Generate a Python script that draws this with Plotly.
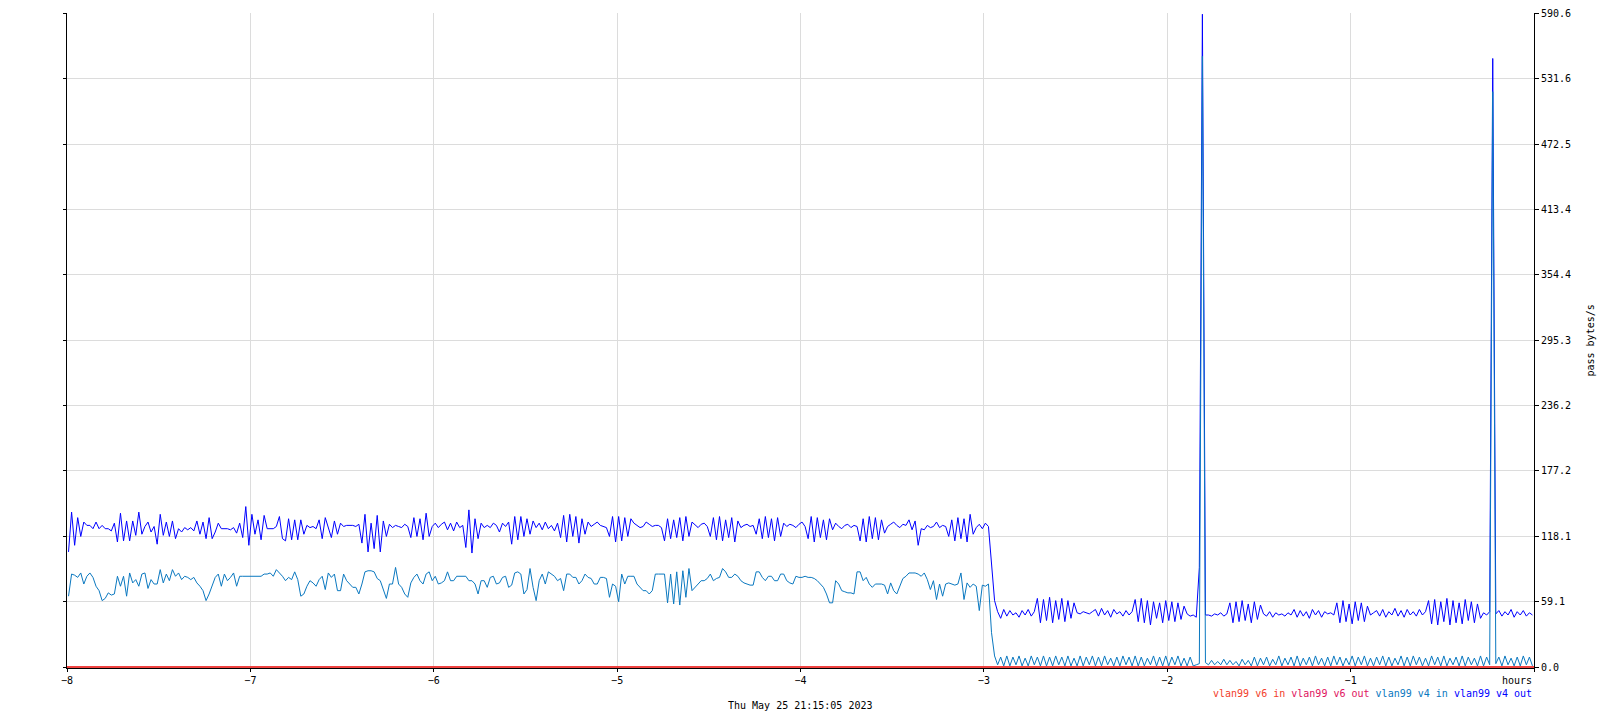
import plotly.graph_objects as go

# ---------------- data (1-minute samples, last 8 hours) ----------------
hours_back = 8
samples_per_hour = 60

v4_out = [
    104, 140, 110, 135, 118, 131, 128, 128, 125, 131, 125, 128, 125, 125, 123, 130, 113, 139, 114, 132,
    114, 132, 119, 140, 120, 127, 131, 122, 127, 111, 138, 119, 131, 118, 132, 116, 125, 122, 126, 124,
    126, 123, 132, 120, 131, 116, 135, 116, 122, 130, 125, 125, 125, 124, 126, 121, 130, 117, 145, 110,
    138, 120, 133, 115, 137, 125, 125, 125, 127, 136, 116, 114, 134, 115, 133, 115, 133, 120, 128, 126,
    127, 125, 133, 116, 135, 126, 117, 132, 120, 130, 127, 128, 128, 128, 127, 129, 112, 138, 104, 130,
    107, 137, 104, 132, 118, 129, 126, 128, 127, 126, 129, 127, 117, 135, 118, 134, 115, 139, 118, 127,
    130, 126, 129, 131, 124, 130, 123, 131, 126, 128, 108, 142, 103, 134, 116, 130, 126, 128, 126, 130,
    128, 122, 130, 127, 131, 111, 136, 115, 136, 118, 134, 120, 132, 126, 130, 124, 131, 125, 128, 123,
    130, 117, 137, 113, 138, 118, 136, 112, 134, 120, 131, 127, 129, 131, 128, 127, 126, 118, 136, 113,
    136, 114, 135, 118, 134, 130, 128, 126, 127, 131, 129, 127, 128, 128, 126, 114, 134, 116, 133, 117,
    135, 114, 136, 118, 131, 128, 126, 129, 130, 127, 118, 135, 115, 136, 114, 133, 117, 135, 113, 132,
    126, 128, 129, 127, 128, 120, 134, 116, 136, 117, 134, 114, 135, 118, 130, 127, 129, 128, 126, 129,
    131, 127, 116, 136, 113, 135, 117, 133, 115, 134, 124, 130, 127, 125, 128, 129, 126, 128, 127, 114,
    134, 113, 136, 116, 135, 115, 133, 121, 127, 129, 131, 128, 126, 129, 128, 133, 124, 132, 110, 125,
    124, 128, 126, 127, 131, 126, 128, 127, 118, 133, 114, 135, 116, 134, 113, 138, 120, 126, 129, 125,
    130, 127, 91, 60, 50, 44, 52, 46, 51, 47, 49, 45, 51, 47, 52, 46, 50, 62, 40, 61,
    42, 63, 40, 60, 43, 62, 41, 60, 44, 58, 49, 48, 50, 49, 48, 50, 52, 46, 53, 47,
    51, 45, 52, 48, 50, 46, 51, 47, 50, 61, 41, 62, 40, 60, 38, 59, 44, 58, 40, 60,
    42, 59, 41, 58, 43, 55, 48, 46, 47, 45, 90, 590, 47, 47, 46, 48, 47, 49, 46, 48,
    58, 40, 59, 41, 60, 42, 57, 40, 59, 43, 56, 48, 46, 50, 45, 49, 47, 48, 46, 49,
    47, 52, 45, 51, 46, 50, 44, 52, 47, 51, 45, 50, 48, 49, 47, 58, 40, 60, 41, 57,
    39, 59, 42, 58, 41, 55, 47, 49, 51, 46, 52, 45, 50, 47, 53, 46, 51, 45, 52, 47,
    50, 46, 52, 47, 50, 60, 39, 61, 38, 59, 41, 62, 38, 60, 40, 58, 39, 61, 42, 59,
    40, 57, 44, 49, 47, 50, 550, 48, 51, 46, 50, 47, 52, 45, 50, 47, 51, 46, 49, 47,
]

v4_in = [
    64, 84, 83, 81, 85, 75, 82, 85, 81, 73, 69, 60, 62, 67, 65, 66, 82, 73, 82, 64,
    85, 76, 79, 73, 84, 85, 71, 79, 75, 75, 88, 76, 84, 78, 88, 82, 85, 79, 82, 81,
    79, 81, 76, 73, 69, 60, 66, 73, 81, 84, 73, 84, 78, 81, 85, 73, 82, 82, 82, 82,
    82, 82, 82, 82, 84, 84, 85, 82, 88, 85, 82, 78, 81, 79, 86, 79, 64, 66, 73, 78,
    76, 73, 79, 82, 70, 85, 81, 84, 69, 69, 84, 78, 75, 72, 72, 66, 75, 86, 87, 87,
    86, 80, 78, 70, 62, 75, 75, 90, 75, 72, 66, 63, 76, 81, 84, 78, 75, 84, 86, 78,
    82, 75, 76, 78, 86, 78, 78, 82, 82, 82, 82, 78, 78, 75, 66, 78, 78, 72, 81, 82,
    75, 76, 81, 82, 72, 74, 85, 86, 84, 66, 70, 89, 72, 60, 78, 84, 75, 86, 84, 82,
    78, 80, 69, 84, 84, 81, 81, 75, 78, 84, 81, 80, 75, 75, 81, 81, 80, 63, 75, 73,
    59, 84, 75, 82, 82, 82, 75, 72, 69, 69, 66, 69, 84, 84, 84, 84, 58, 84, 57, 86,
    56, 87, 63, 89, 69, 72, 75, 78, 78, 80, 84, 78, 80, 81, 89, 86, 81, 81, 84, 82,
    78, 76, 75, 74, 74, 86, 86, 81, 78, 82, 82, 78, 78, 84, 84, 78, 76, 75, 82, 81,
    81, 82, 81, 81, 80, 78, 75, 72, 66, 58, 58, 78, 75, 69, 68, 67, 67, 66, 86, 86,
    78, 81, 75, 72, 75, 75, 75, 74, 66, 76, 69, 66, 73, 80, 82, 85, 85, 85, 84, 82,
    85, 79, 70, 78, 61, 75, 64, 75, 76, 75, 74, 75, 85, 61, 76, 72, 75, 73, 51, 74,
    73, 75, 31, 10, 2, 9, 1, 10, 1, 9, 2, 10, 1, 8, 1, 10, 2, 9, 1, 10,
    1, 9, 1, 10, 2, 9, 1, 10, 1, 8, 1, 10, 1, 9, 2, 10, 1, 9, 1, 10,
    2, 8, 1, 9, 1, 10, 2, 9, 1, 10, 1, 9, 1, 8, 2, 10, 1, 9, 1, 10,
    1, 9, 2, 10, 1, 8, 1, 9, 1, 2, 3, 552, 4, 2, 6, 2, 5, 2, 7, 2,
    6, 2, 5, 1, 7, 2, 6, 1, 9, 1, 8, 2, 9, 1, 7, 2, 10, 1, 8, 2,
    9, 1, 10, 1, 8, 2, 9, 1, 10, 2, 8, 1, 9, 1, 10, 2, 9, 1, 8, 2,
    10, 1, 9, 2, 10, 1, 8, 1, 9, 2, 10, 1, 9, 1, 8, 2, 10, 1, 9, 1,
    10, 2, 9, 1, 8, 1, 10, 2, 9, 1, 10, 1, 8, 2, 9, 1, 10, 1, 9, 2,
    8, 1, 10, 1, 9, 2, 520, 3, 9, 1, 10, 2, 8, 1, 9, 1, 10, 2, 9, 1,
]

# IPv6 counters stayed at zero for the whole window
v6_time = [-8, 0]
v6_in = [0, 0]
v6_out = [0, 0]

y_tick_values = [0, 59.06, 118.12, 177.18, 236.24, 295.3, 354.36, 413.42, 472.48, 531.54, 590.6]
y_tick_labels = ["0.0", "59.1", "118.1", "177.2", "236.2", "295.3", "354.4", "413.4", "472.5", "531.6", "590.6"]
x_tick_values = [-8, -7, -6, -5, -4, -3, -2, -1, 0]
x_tick_labels = ["\u22128", "\u22127", "\u22126", "\u22125", "\u22124", "\u22123", "\u22122", "\u22121", ""]

series_names = ["vlan99 v6 in", "vlan99 v6 out", "vlan99 v4 in", "vlan99 v4 out"]
series_colors = ["#f2402a", "#e0125e", "#0a78c0", "#0000ff"]
date_label = "Thu May 25 21:15:05 2023"
y_title = "pass bytes/s"
x_unit = "hours"

# ---------------- figure ----------------
# each 1-minute sample is plotted at the middle of its minute
t4 = [-hours_back + (i + 0.5) / samples_per_hour for i in range(len(v4_out))]

MONO = "DejaVu Sans Mono"
fig = go.Figure()

fig.add_trace(go.Scatter(x=t4, y=v4_out, mode="lines", line=dict(color=series_colors[3], width=1),
                         name=series_names[3]))
fig.add_trace(go.Scatter(x=t4, y=v4_in, mode="lines", line=dict(color=series_colors[2], width=1),
                         name=series_names[2]))
fig.add_trace(go.Scatter(x=v6_time, y=v6_out, mode="lines", line=dict(color=series_colors[1], width=1.3),
                         name=series_names[1], yaxis="y2"))
fig.add_trace(go.Scatter(x=v6_time, y=v6_in, mode="lines", line=dict(color=series_colors[0], width=1.3),
                         name=series_names[0], yaxis="y2"))

yr = [-0.9, 591.1]
tickfont = dict(family=MONO, size=10, color="black")

fig.update_layout(
    width=1600, height=720,
    margin=dict(l=67, r=66, t=13, b=52, autoexpand=False),
    paper_bgcolor="white", plot_bgcolor="white",
    showlegend=False,
    xaxis=dict(range=[-8, 0], tickvals=x_tick_values, ticktext=x_tick_labels,
               showgrid=True, gridcolor="#dcdcdc", gridwidth=1,
               showline=True, linecolor="black", linewidth=1,
               ticks="outside", ticklen=3, tickcolor="black", tickwidth=1,
               zeroline=False, tickfont=tickfont, automargin=False),
    yaxis=dict(range=yr, side="right", tickvals=y_tick_values, ticktext=y_tick_labels,
               showgrid=True, gridcolor="#dcdcdc", gridwidth=1,
               showline=True, linecolor="black", linewidth=1,
               ticks="outside", ticklen=4, tickcolor="black", tickwidth=1,
               zeroline=False, tickfont=tickfont, automargin=False),
    yaxis2=dict(range=yr, overlaying="y", side="left", tickvals=y_tick_values,
                showticklabels=False, showgrid=False,
                showline=True, linecolor="black", linewidth=1,
                ticks="outside", ticklen=3, tickcolor="black", tickwidth=1,
                zeroline=False, automargin=False),
)

legend_html = " ".join(
    f'<span style="color:{c}">{n}</span>' for n, c in zip(series_names, series_colors)
)

fig.add_annotation(x=0, xref="x", y=0, yref="paper", xanchor="right", yanchor="middle",
                   yshift=-12, text=x_unit, showarrow=False, font=dict(family=MONO, size=10, color="black"))
fig.add_annotation(x=0, xref="x", y=0, yref="paper", xanchor="right", yanchor="middle",
                   yshift=-25, text=legend_html, showarrow=False, font=dict(family=MONO, size=10))
fig.add_annotation(x=0.5, xref="paper", y=0, yref="paper", xanchor="center", yanchor="middle",
                   yshift=-37, text=date_label, showarrow=False, font=dict(family=MONO, size=10, color="black"))
fig.add_annotation(x=1, xref="paper", y=0.5, yref="paper", xanchor="center", yanchor="middle",
                   xshift=56, text=y_title, textangle=-90, showarrow=False,
                   font=dict(family=MONO, size=10, color="black"))

fig.write_html("out.html",
               config={"displayModeBar": False, "staticPlot": True},
               post_script="document.body.style.margin='0';document.body.style.overflow='hidden';")
